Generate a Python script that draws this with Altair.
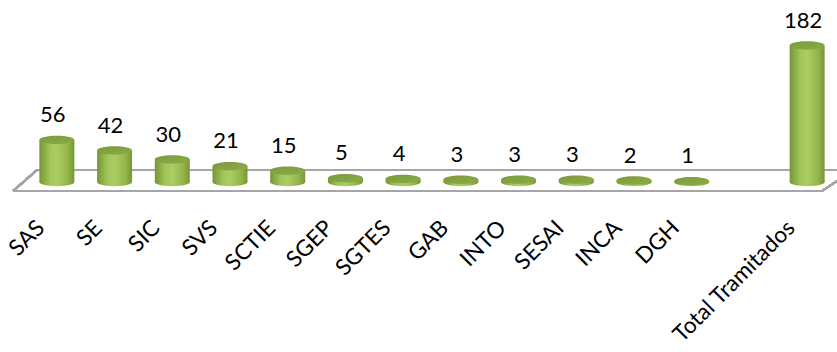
import altair as alt
import pandas as pd

categories = ["SAS", "SE", "SIC", "SVS", "SCTIE", "SGEP", "SGTES", "GAB", "INTO",
              "SESAI", "INCA", "DGH", "Total Tramitados"]
values = [56, 42, 30, 21, 15, 5, 4, 3, 3, 3, 2, 1, 182]
# slot order on the axis, with one empty slot before the total
axis_slots = ["SAS", "SE", "SIC", "SVS", "SCTIE", "SGEP", "SGTES", "GAB", "INTO",
              "SESAI", "INCA", "DGH", " ", "Total Tramitados"]

df = pd.DataFrame({"cat": categories, "val": values, "zero": [0] * len(values)})

FONT = "Lato"
W, H = 808, 182

x_enc = alt.X("cat:N", scale=alt.Scale(domain=axis_slots, paddingInner=0, paddingOuter=0),
              sort=axis_slots,
              axis=alt.Axis(title=None, domain=False, ticks=False, grid=False,
                            labelAngle=-45, labelAlign="right", labelBaseline="middle",
                            labelFont=FONT, labelFontSize=22.5, labelColor="#000000",
                            labelPadding=42, labelOffset=-16, labelOverlap=False,
                            labelLimit=400))
y_scale = alt.Scale(domain=[0, 242.7], nice=False, zero=True)
y_axis = None

body_grad = alt.Gradient(
    gradient="linear", x1=0, x2=1, y1=0, y2=0,
    stops=[alt.GradientStop(offset=0, color="#759632"),
           alt.GradientStop(offset=0.3, color="#a2c55a"),
           alt.GradientStop(offset=0.5, color="#abcd62"),
           alt.GradientStop(offset=0.82, color="#92b44a"),
           alt.GradientStop(offset=1, color="#769634")])
top_grad = alt.Gradient(
    gradient="linear", x1=0, x2=1, y1=0, y2=1,
    stops=[alt.GradientStop(offset=0, color="#7b9a3a"),
           alt.GradientStop(offset=1, color="#8cab48")])

ELLIPSE = "M-1,0A1,0.24,0,1,0,1,0A1,0.24,0,1,0,-1,0Z"
BW = 35

base = alt.Chart(df)

bottom = base.mark_point(shape=ELLIPSE, filled=True, fill=body_grad, opacity=1,
                         size=BW * BW, strokeWidth=0).encode(
    x=x_enc, y=alt.Y("zero:Q", scale=y_scale, axis=y_axis))
body = base.mark_bar(size=BW, fill=body_grad).encode(
    x=x_enc, y=alt.Y("val:Q", scale=y_scale, axis=y_axis), y2="zero:Q")
top = base.mark_point(shape=ELLIPSE, filled=True, fill=top_grad, opacity=1,
                      size=BW * BW, strokeWidth=0).encode(
    x=x_enc, y=alt.Y("val:Q", scale=y_scale, axis=y_axis))
labels = base.mark_text(font=FONT, fontSize=22, color="#000000", dy=-18, dx=-4,
                        baseline="alphabetic", align="center").encode(
    x=x_enc, y=alt.Y("val:Q", scale=y_scale, axis=y_axis), text="val:Q")

floor_col = "#a6a6a6"
back = alt.Chart(df).mark_rule(color=floor_col, strokeWidth=2).encode(
    x=alt.value(9), x2=alt.value(812), y=alt.value(170))
front = alt.Chart(df).mark_rule(color=floor_col, strokeWidth=2).encode(
    x=alt.value(-15), x2=alt.value(794), y=alt.value(191))
left_edge = alt.Chart(df).mark_rule(color=floor_col, strokeWidth=2).encode(
    x=alt.value(-15), x2=alt.value(9), y=alt.value(191), y2=alt.value(170))
right_edge = alt.Chart(df).mark_rule(color=floor_col, strokeWidth=2).encode(
    x=alt.value(794), x2=alt.value(809), y=alt.value(191), y2=alt.value(181))

chart = alt.layer(back, front, left_edge, right_edge, bottom, body, top, labels).properties(
    width=W, height=H,
    autosize=alt.AutoSizeParams(type="none"),
    padding={"left": 28, "top": 0, "right": 1, "bottom": 170},
    background="#ffffff",
).configure_view(strokeWidth=0, stroke="transparent")

chart.save("out.html", embed_options={"renderer": "svg", "actions": False})
